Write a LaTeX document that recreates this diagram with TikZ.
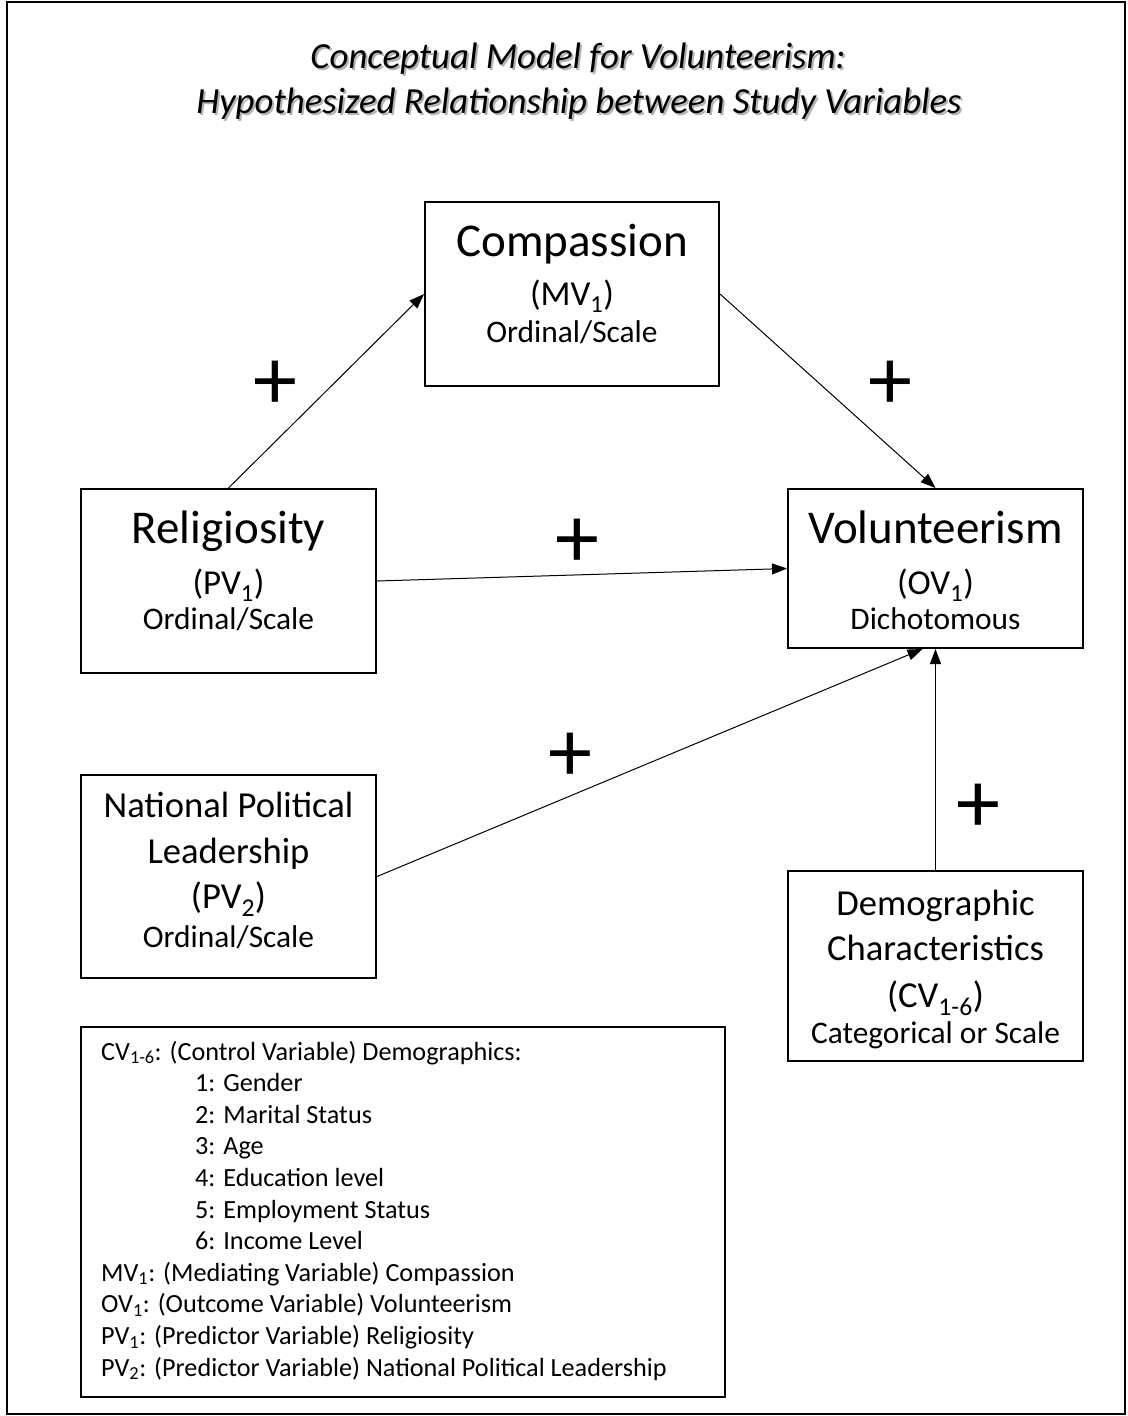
\documentclass[tikz,border=0pt]{standalone}
\usepackage{fontspec}
\setmainfont{Carlito}
\usetikzlibrary{arrows.meta}
\newcommand\fs[1]{\fontsize{#1}{#1}\selectfont}
\newcommand\sbs[1]{\textsubscript{#1}}

\begin{document}
\begin{tikzpicture}[x=1pt,y=-1pt,
  box/.style={draw, line width=2pt, inner sep=0pt},
  conn/.style={line width=1pt, -{Triangle[length=15pt,width=11pt]}},
  txt/.style={anchor=base, inner sep=0pt},
  leg/.style={anchor=base west, inner sep=0pt, font=\fs{26.2}},
  sign/.style={inner sep=0pt, font=\fs{88}},
  heading/.style={anchor=base, inner sep=0pt, font=\fs{36.8}\itshape},
]
\useasboundingbox (0,0) rectangle (1127,1416);
\draw[line width=2pt] (7,2) rectangle (1125,1414);

% title with a soft drop shadow
\node[heading, text=black!30] (t1s) at (580,70) {Conceptual Model for Volunteerism:};
\node[heading, text=black!30] (t2s) at (581,115) {Hypothesized Relationship between Study Variables};
\node[heading] (t1) at (578,68) {Conceptual Model for Volunteerism:};
\node[heading] (t2) at (579,113) {Hypothesized Relationship between Study Variables};

% variable boxes
\node[box, minimum width=294pt, minimum height=184pt] (mv) at (572,294) {};
\node[box, minimum width=295pt, minimum height=184pt] (pv1) at (228.5,581) {};
\node[box, minimum width=295pt, minimum height=159pt] (ov) at (935.5,568.5) {};
\node[box, minimum width=295pt, minimum height=203pt] (pv2) at (228.5,876.5) {};
\node[box, minimum width=295pt, minimum height=190pt] (cv) at (935.5,966) {};
\node[box, minimum width=644pt, minimum height=370pt] (key) at (403,1212) {};

% box texts
\node[txt, font=\fs{47}] (mvA) at (572,256) {Compassion};
\node[txt, font=\fs{35}] (mvB) at (572,305) {(MV\sbs{1})};
\node[txt, font=\fs{31.4}] (mvC) at (572,342) {Ordinal/Scale};

\node[txt, font=\fs{47}] (pv1A) at (228.5,543) {Religiosity};
\node[txt, font=\fs{35}] (pv1B) at (228.5,594) {(PV\sbs{1})};
\node[txt, font=\fs{31.4}] (pv1C) at (228.5,629) {Ordinal/Scale};

\node[txt, font=\fs{47}] (ovA) at (935.5,543) {Volunteerism};
\node[txt, font=\fs{35}] (ovB) at (935.5,594) {(OV\sbs{1})};
\node[txt, font=\fs{31.4}] (ovC) at (935.5,629) {Dichotomous};

\node[txt, font=\fs{36.6}] (pv2A) at (228.5,817) {National Political};
\node[txt, font=\fs{36.6}] (pv2B) at (228.5,863) {Leadership};
\node[txt, font=\fs{36.6}] (pv2C) at (228.5,908) {(PV\sbs{2})};
\node[txt, font=\fs{31.4}] (pv2D) at (228.5,947) {Ordinal/Scale};

\node[txt, font=\fs{36.6}] (cvA) at (935.5,915) {Demographic};
\node[txt, font=\fs{36.6}] (cvB) at (935.5,960) {Characteristics};
\node[txt, font=\fs{36.6}] (cvC) at (935.5,1007) {(CV\sbs{1-6})};
\node[txt, font=\fs{31.4}] (cvD) at (935.5,1043) {Categorical or Scale};

% key
\node[leg] (k1) at (101,1060) {CV\sbs{1-6}: (Control Variable) Demographics:};
\node[leg] (k2) at (195,1091.6) {1: Gender};
\node[leg] (k3) at (195,1123.2) {2: Marital Status};
\node[leg] (k4) at (195,1154.8) {3: Age};
\node[leg] (k5) at (195,1186.4) {4: Education level};
\node[leg] (k6) at (195,1218) {5: Employment Status};
\node[leg] (k7) at (195,1249.6) {6: Income Level};
\node[leg] (k8) at (101,1281.2) {MV\sbs{1}: (Mediating Variable) Compassion};
\node[leg] (k9) at (101,1312.8) {OV\sbs{1}: (Outcome Variable) Volunteerism};
\node[leg] (k10) at (101,1344.4) {PV\sbs{1}: (Predictor Variable) Religiosity};
\node[leg] (k11) at (101,1376) {PV\sbs{2}: (Predictor Variable) National Political Leadership};

% hypothesized paths
\draw[conn] (pv1.north) -- (mv.west);
\draw[conn] (mv.east) -- (ov.north);
\draw[conn] (pv1.east) -- (ov.west);
\draw[conn] (pv2.east) -- ([xshift=-13pt]ov.south);
\draw[conn] (cv.north) -- (ov.south);

% signs of the paths
\node[sign] (s1) at (275,385) {+};
\node[sign] (s2) at (890,385) {+};
\node[sign] (s3) at (577,543) {+};
\node[sign] (s4) at (570,757) {+};
\node[sign] (s5) at (978,808) {+};
\end{tikzpicture}
\end{document}
